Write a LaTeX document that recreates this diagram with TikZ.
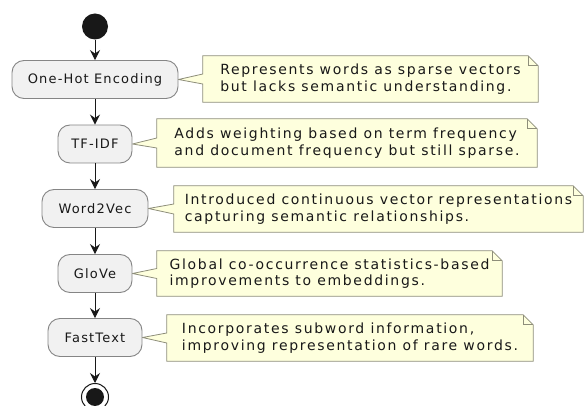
\documentclass[tikz,border=0pt]{standalone}
\usepackage{fontspec}
\setmainfont{DejaVu Sans}
\newfontfamily\notefont{DejaVu Sans}[LetterSpace=12]
\newfontfamily\boxfont{DejaVu Sans}[LetterSpace=9]
\usetikzlibrary{arrows.meta,calc,backgrounds}
\definecolor{notefill}{HTML}{FEFFDD}
\definecolor{noteline}{HTML}{8E8E7A}
\definecolor{actfill}{HTML}{F1F1F1}
\definecolor{actline}{HTML}{858585}
\definecolor{ink}{HTML}{181818}
\tikzset{
  act/.style={draw=actline, fill=actfill, line width=0.9pt, rounded corners=12pt,
    minimum height=38pt, inner sep=0pt, text=ink,
    font=\boxfont\fontsize{13}{15}\selectfont},
  notetext/.style={inner sep=0pt, align=left, text=ink,
    font=\notefont\fontsize{14}{16.7}\selectfont},
  noteframe/.style={draw=noteline, fill=notefill, line width=0.8pt, line join=miter},
  flow/.style={draw=ink, line width=1pt,
    -{Stealth[length=10pt,width=10pt,inset=3.5pt]}},
  startdot/.style={circle, fill=ink, minimum size=26pt, inner sep=0pt},
  stopring/.style={circle, draw=ink, fill=white, line width=1pt, minimum size=27pt, inner sep=0pt}
}
\newcommand{\notebox}[7]{%
  \node[notetext, minimum width={#4-#2}, minimum height={#5-#3}] (#1) at ({(#2+#4)/2},{(#3+#5)/2}) {#7};
  \begin{pgfonlayer}{background}
  \draw[noteframe] (#1.north west) -- ($(#1.north east)+(-10,0)$) -- ($(#1.north east)+(0,10)$)
    -- (#1.south east) -- (#1.south west) -- ($(#1.west)+(0,5)$) -- (#6.east)
    -- ($(#1.west)+(0,-5)$) -- cycle;
  \draw[noteframe, fill=none] ($(#1.north east)+(-10,0)$) -- ($(#1.north east)+(-10,10)$) -- ($(#1.north east)+(0,10)$);
  \end{pgfonlayer}}
\begin{document}
\begin{tikzpicture}[x=1pt,y=-1pt]
\clip (0,0) rectangle (584,406);
\useasboundingbox (0,0) rectangle (584,406);

\node[startdot] (start) at (95,26.5) {};
\node[act, minimum width=166pt] (onehot) at (95,79.5) {One-Hot Encoding};
\node[act, minimum width=74pt] (tfidf) at (95,144) {TF-IDF};
\node[act, minimum width=106pt] (w2v) at (95,208.5) {Word2Vec};
\node[act, minimum width=74pt] (glove) at (95,273.5) {GloVe};
\node[act, minimum width=94pt] (fasttext) at (95,337.5) {FastText};
\node[stopring] (stop) at (95,397) {};
\fill[ink] (stop.center) circle (9pt);

\draw[flow] (start) -- (onehot);
\draw[flow] (onehot) -- (tfidf);
\draw[flow] (tfidf) -- (w2v);
\draw[flow] (w2v) -- (glove);
\draw[flow] (glove) -- (fasttext);
\draw[flow] (fasttext) -- (stop);

\notebox{n1}{203}{56}{538}{102}{onehot}{Represents words as sparse vectors\\but lacks semantic understanding.}
\notebox{n2}{157}{119}{537}{167}{tfidf}{Adds weighting based on term frequency\\and document frequency but still sparse.}
\notebox{n3}{174}{186}{583}{232}{w2v}{Introduced continuous vector representations\\capturing semantic relationships.}
\notebox{n4}{157}{251}{502}{296}{glove}{Global co-occurrence statistics-based\\improvements to embeddings.}
\notebox{n5}{167}{315}{533}{361}{fasttext}{Incorporates subword information,\\improving representation of rare words.}
\end{tikzpicture}
\end{document}
